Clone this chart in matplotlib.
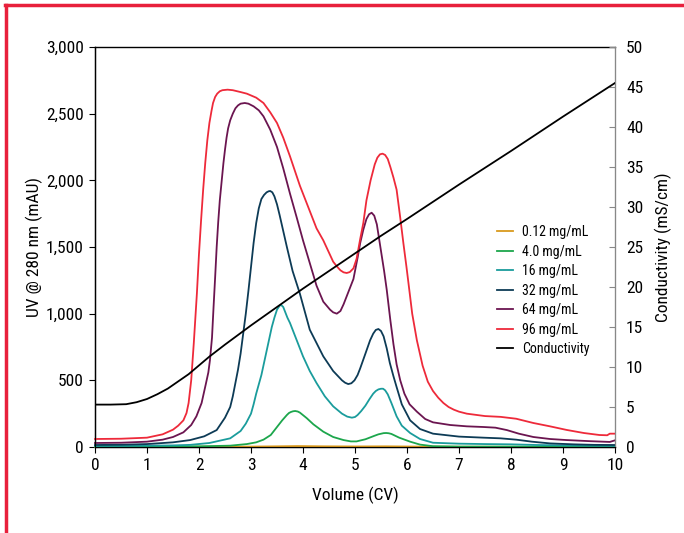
import numpy as np
import matplotlib
matplotlib.use('Agg')
import matplotlib.pyplot as plt
from matplotlib.lines import Line2D
from matplotlib.ticker import FuncFormatter
from matplotlib import font_manager

names = set(f.name for f in font_manager.fontManager.ttflist)
fams = [f for f in ['Roboto Condensed', 'Liberation Sans Narrow', 'Open Sans Condensed',
                    'Liberation Sans'] if f in names]
plt.rcParams['font.family'] = fams + ['DejaVu Sans']

# --- data ---
v_96 = [0, 0.5, 1.0, 1.3, 1.5, 1.6, 1.7, 1.76, 1.8, 1.85, 1.9, 1.96, 2.0, 2.04, 2.08, 2.12, 2.16,
        2.2, 2.24, 2.27, 2.31, 2.35, 2.4, 2.45, 2.55, 2.65, 2.8, 2.92, 3.1, 3.24, 3.37, 3.5,
        3.62, 3.75, 3.94, 4.07, 4.26, 4.39, 4.58, 4.65, 4.72, 4.78, 4.84, 4.9, 4.97, 5.03, 5.1,
        5.16, 5.22, 5.3, 5.38, 5.43, 5.48, 5.53, 5.58, 5.63, 5.68, 5.74, 5.8, 5.87, 5.93, 5.99,
        6.05, 6.1, 6.19, 6.3, 6.4, 6.5, 6.6, 6.7, 6.8, 6.9, 7.0, 7.15, 7.5, 7.8, 8.1, 8.43,
        8.75, 9.07, 9.4, 9.7, 9.85, 9.9, 10]
uv_96 = [60, 62, 70, 95, 130, 160, 200, 255, 330, 500, 780, 1155, 1450, 1700, 1930, 2130, 2300,
         2430, 2520, 2580, 2625, 2650, 2668, 2676, 2680, 2676, 2662, 2650, 2620, 2580, 2510, 2430,
         2320, 2180, 1960, 1830, 1640, 1550, 1390, 1355, 1325, 1310, 1305, 1312, 1340, 1410, 1560,
         1680, 1850, 2000, 2120, 2170, 2195, 2200, 2190, 2160, 2100, 2020, 1930, 1720, 1530, 1350,
         1160, 1000, 800, 610, 490, 420, 370, 330, 300, 280, 265, 250, 232, 226, 212, 180,
         155, 128, 105, 90, 88, 100, 100]

v_64 = [0, 0.5, 1.0, 1.3, 1.5, 1.7, 1.85, 1.95, 2.05, 2.13, 2.18, 2.21, 2.25, 2.28, 2.31, 2.34,
        2.37, 2.4, 2.44, 2.47, 2.5, 2.53, 2.56, 2.6, 2.65, 2.7, 2.75, 2.8, 2.88, 2.95, 3.05,
        3.15, 3.24, 3.37, 3.5, 3.62, 3.75, 3.88, 4.0, 4.13, 4.26, 4.39, 4.52, 4.58, 4.65, 4.72,
        4.78, 4.84, 4.9, 4.97, 5.05, 5.1, 5.16, 5.22, 5.27, 5.32, 5.37, 5.42, 5.5, 5.56, 5.61,
        5.68, 5.74, 5.8, 5.87, 5.95, 6.05, 6.19, 6.35, 6.5, 6.83, 7.15, 7.47, 7.7, 7.92, 8.15,
        8.43, 8.75, 9.07, 9.5, 9.9, 10]
uv_64 = [30, 32, 40, 55, 75, 110, 165, 230, 330, 470, 560, 650, 820, 1050, 1270, 1500,
         1690, 1850, 2010, 2130, 2230, 2320, 2390, 2450, 2500, 2540, 2562, 2575, 2580, 2575, 2555,
         2525, 2480, 2380, 2250, 2090, 1900, 1720, 1550, 1380, 1210, 1090, 1030, 1010, 1000, 1020,
         1070, 1130, 1190, 1260, 1420, 1530, 1630, 1710, 1745, 1757, 1735, 1670, 1470, 1320, 1180,
         950, 770, 620, 500, 400, 320, 265, 210, 185, 165, 155, 150, 145, 127, 100,
         75, 60, 52, 44, 38, 50]

v_32 = [0, 0.5, 1.0, 1.5, 1.83, 2.1, 2.34, 2.5, 2.6, 2.65, 2.7, 2.75, 2.8, 2.85, 2.9, 2.95, 3.0,
        3.05, 3.1, 3.15, 3.2, 3.25, 3.3, 3.34, 3.37, 3.41, 3.45, 3.5, 3.55, 3.62, 3.69, 3.8,
        3.94, 4.13, 4.26, 4.39, 4.58, 4.75, 4.81, 4.87, 4.93, 4.99, 5.05, 5.1, 5.2, 5.29, 5.35,
        5.4, 5.45, 5.5, 5.55, 5.61, 5.67, 5.74, 5.8, 5.9, 6.06, 6.25, 6.5, 7.0, 7.47, 7.8,
        8.1, 8.4, 8.75, 9.2, 9.6, 10]
uv_32 = [15, 17, 22, 35, 52, 80, 127, 220, 300, 380, 480, 580, 700, 850, 1000, 1170, 1350,
         1530, 1680, 1790, 1860, 1890, 1910, 1918, 1920, 1910, 1880, 1820, 1740, 1620, 1500, 1320,
         1150, 880, 780, 680, 570, 500, 482, 472, 478, 500, 540, 590, 700, 800, 850,
         878, 885, 870, 830, 740, 630, 530, 450, 320, 200, 135, 100, 78, 70, 65,
         55, 40, 27, 20, 16, 15]

v_16 = [0, 0.5, 1.0, 1.5, 1.83, 2.2, 2.6, 2.8, 2.9, 3.0, 3.05, 3.1, 3.15, 3.2, 3.25, 3.3, 3.35,
        3.4, 3.45, 3.5, 3.55, 3.58, 3.62, 3.66, 3.7, 3.75, 3.88, 4.0, 4.13, 4.26, 4.42, 4.58,
        4.75, 4.85, 4.94, 5.0, 5.05, 5.12, 5.2, 5.28, 5.35, 5.4, 5.45, 5.5, 5.54, 5.58, 5.63,
        5.7, 5.8, 5.9, 6.06, 6.25, 6.5, 7.0, 7.5, 8.0, 8.5, 9.0, 9.5, 10]
uv_16 = [8, 8, 10, 12, 16, 30, 65, 120, 175, 250, 320, 400, 470, 540, 630, 720, 810,
         900, 970, 1030, 1060, 1065, 1050, 1010, 970, 930, 800, 680, 570, 480, 380, 305,
         250, 228, 220, 225, 240, 270, 310, 360, 400, 420, 432, 437, 437, 425, 395,
         330, 230, 160, 105, 60, 32, 25, 22, 20, 15, 12, 10, 8]

v_4 = [0, 1.0, 2.0, 2.6, 2.92, 3.1, 3.24, 3.38, 3.5, 3.6, 3.69, 3.73, 3.77, 3.81, 3.85, 3.9,
       3.94, 4.07, 4.2, 4.39, 4.58, 4.78, 4.92, 5.03, 5.2, 5.38, 5.45, 5.55, 5.6, 5.65, 5.7,
       5.85, 6.06, 6.25, 6.5, 7.0, 8.0, 9.0, 10]
uv_4 = [3, 3, 5, 10, 22, 35, 55, 90, 150, 200, 240, 255, 263, 268, 270, 266,
        258, 217, 170, 115, 75, 52, 42, 42, 58, 85, 95, 104, 105, 103, 98,
        70, 40, 18, 6, 3, 3, 2, 2]

v_012 = [0, 3.0, 3.5, 3.9, 4.4, 5.0, 5.6, 6.2, 7.0, 10]
uv_012 = [2, 3, 5, 7, 5, 4, 5, 3, 2, 1]

v_cond = [0, 0.3, 0.6, 0.8, 1.0, 1.2, 1.4, 1.6, 1.8, 2.0, 2.2, 2.5, 3.0, 3.5, 4.0, 4.5, 5.0,
          5.5, 6.0, 7.0, 8.0, 9.0, 10.0]
cond = [5.3, 5.3, 5.35, 5.6, 6.0, 6.6, 7.3, 8.2, 9.1, 10.2, 11.3, 12.8, 15.2, 17.5, 19.8, 22.0,
        24.2, 26.4, 28.5, 32.8, 37.0, 41.3, 45.5]

series = [
    ('0.12 mg/mL', v_012, uv_012, '#d99a1e'),
    ('4.0 mg/mL', v_4, uv_4, '#1ca64c'),
    ('16 mg/mL', v_16, uv_16, '#1a9c9c'),
    ('32 mg/mL', v_32, uv_32, '#0d3b56'),
    ('64 mg/mL', v_64, uv_64, '#6b1550'),
    ('96 mg/mL', v_96, uv_96, '#ee2a3a'),
]

fig = plt.figure(figsize=(6.84, 5.33), dpi=100)
ax = fig.add_axes([95/684, 1 - 447/533, 520/684, 400/533])
ax2 = ax.twinx()

handles = []
for label, v, uv, col in series:
    h, = ax.plot(v, uv, color=col, lw=1.3, label=label, clip_on=False, zorder=3,
                 solid_joinstyle='round')
    handles.append(h)
hc, = ax2.plot(v_cond, cond, color='black', lw=1.3, label='Conductivity', zorder=4)
handles.append(hc)

ax.set_xlim(0, 10)
ax.set_ylim(0, 3000)
ax2.set_ylim(0, 50)
ax.set_xticks(range(0, 11))
ax.set_yticks(range(0, 3001, 500))
ax2.set_yticks(range(0, 51, 5))
ax.yaxis.set_major_formatter(FuncFormatter(lambda val, pos: '{:,.0f}'.format(val)))

ax.tick_params(axis='both', direction='out', length=4, width=0.8, labelsize=12.5, pad=4)
ax2.tick_params(axis='y', direction='in', length=4, width=0.8, labelsize=12.5, pad=8, color='#888888')

for s in ['left', 'bottom', 'top']:
    ax.spines[s].set_linewidth(1.0)
ax2.spines['right'].set_color('#888888')
ax2.spines['top'].set_visible(False)

ax.set_xlabel('Volume (CV)', fontsize=12.5, labelpad=10)
ax.set_ylabel('UV @ 280 nm (mAU)', fontsize=12.5, labelpad=2)
ax2.set_ylabel('Conductivity (mS/cm)', fontsize=12.5, labelpad=8)

ax2.legend(handles=handles, loc='upper left', bbox_to_anchor=(0.773, 0.555), frameon=False,
           borderaxespad=0, borderpad=0, fontsize=10, handlelength=1.15,
           handletextpad=0.65, labelspacing=0.4)

# red frame lines at top and left
fig.add_artist(Line2D([5/684, 1], [1 - 5/533, 1 - 5/533], color='#e8203c', lw=2.5))
fig.add_artist(Line2D([5.5/684, 5.5/684], [0, 1 - 5/533], color='#e8203c', lw=2.5))

fig.savefig('out.png', dpi=100)
